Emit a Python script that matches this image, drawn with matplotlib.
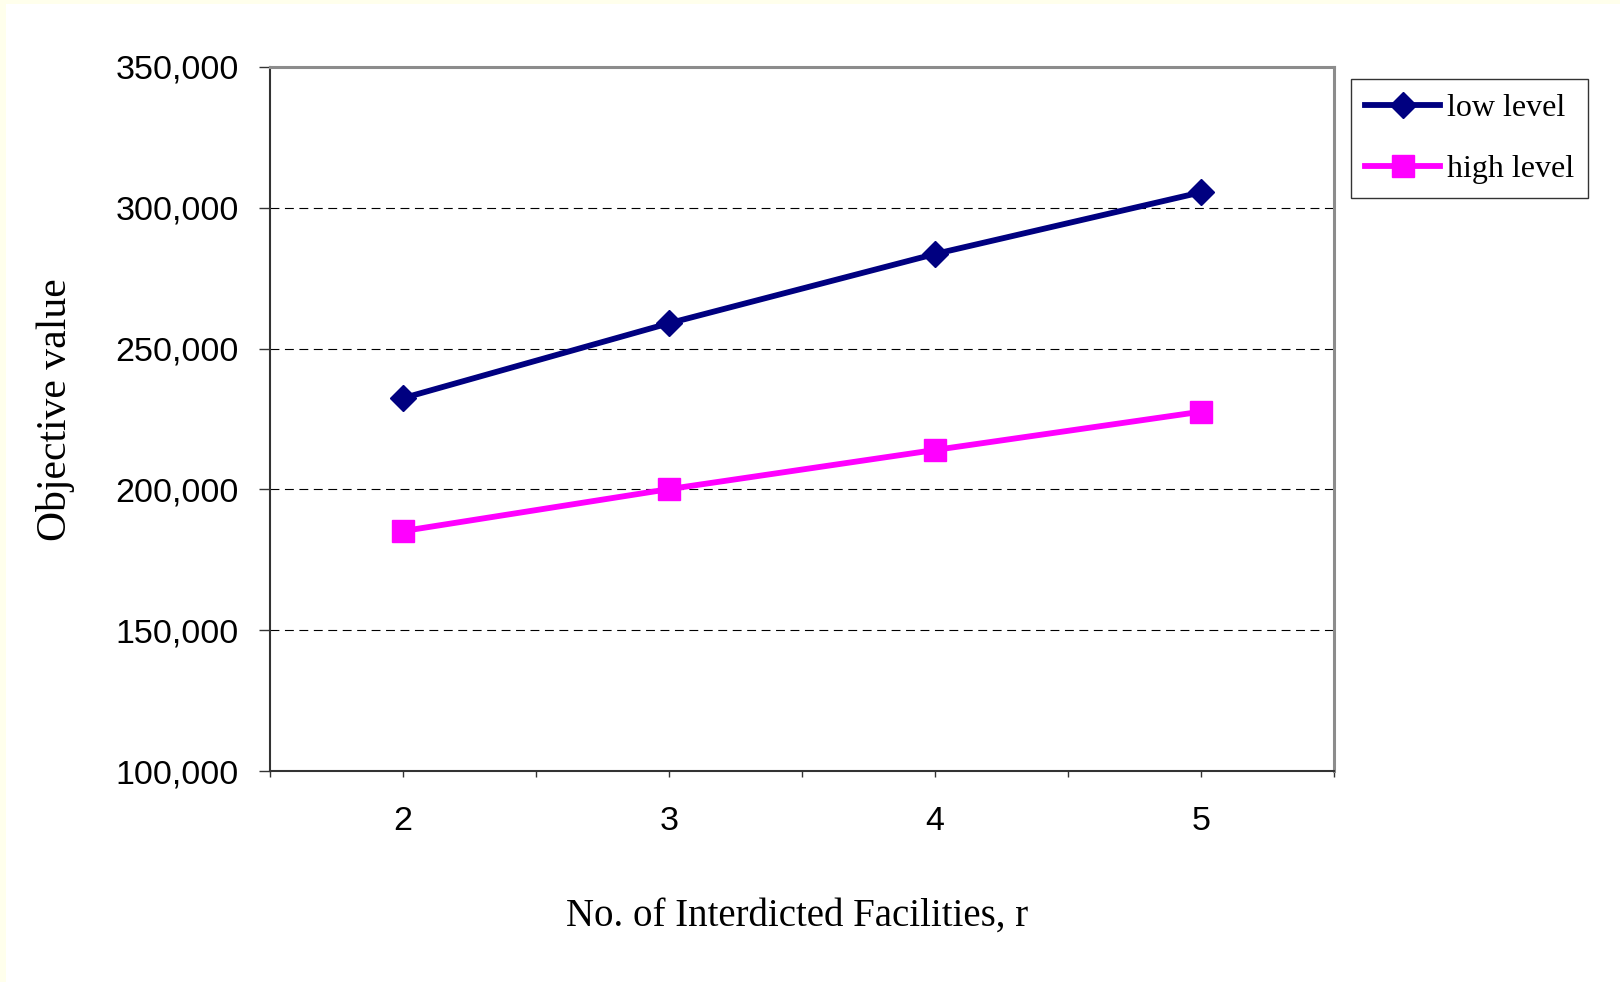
import matplotlib
matplotlib.use("Agg")
import matplotlib.pyplot as plt
from matplotlib.patches import Rectangle
from matplotlib.ticker import MultipleLocator, FixedLocator

# данные
r_values = [2, 3, 4, 5]
low_level = [232400, 259000, 283600, 305500]
high_level = [185200, 200100, 214000, 227600]
y_ticks = [100000, 150000, 200000, 250000, 300000, 350000]
y_tick_labels = ["100,000", "150,000", "200,000", "250,000", "300,000", "350,000"]
series_names = ["low level", "high level"]

W, H = 1620, 982
fig = plt.figure(figsize=(W / 100, H / 100), dpi=100, facecolor="white")

# бледно-жёлтая рамка слева и сверху
fig.patches.append(Rectangle((0, 0), 6 / W, 1, transform=fig.transFigure,
                             facecolor="#FFFFEC", edgecolor="none", zorder=0))
fig.patches.append(Rectangle((0, 1 - 4 / H), 1, 4 / H, transform=fig.transFigure,
                             facecolor="#FFFFEC", edgecolor="none", zorder=0))

ax = fig.add_axes([270 / W, 1 - 771 / H, (1334 - 270) / W, (771 - 67) / H])

ax.plot(r_values, low_level, color="#000080", lw=4.2, marker="D", ms=13,
        mec="#000080", label=series_names[0], zorder=3)
ax.plot(r_values, high_level, color="#FF00FF", lw=4.2, marker="s", ms=16,
        mec="#FF00FF", label=series_names[1], zorder=3)

ax.set_xlim(1.5, 5.5)
ax.set_ylim(100000, 350000)

ax.xaxis.set_major_locator(FixedLocator(r_values))
ax.xaxis.set_minor_locator(MultipleLocator(0.5))
ax.set_xticklabels([str(v) for v in r_values])
ax.set_yticks(y_ticks)
ax.set_yticklabels(y_tick_labels)

ax.tick_params(axis="x", which="both", direction="out", length=4, width=1,
               color="#333333", pad=21, labelsize=24.5)
ax.tick_params(axis="y", direction="out", length=8, width=1, color="#333333",
               pad=14.5, labelsize=24.5)
for lab in ax.get_xticklabels() + ax.get_yticklabels():
    lab.set_fontfamily("Liberation Sans")

ax.yaxis.grid(True, color="black", lw=0.8, linestyle=(0, (8, 5)), zorder=1)
ax.set_axisbelow(True)

for side in ["left", "bottom"]:
    ax.spines[side].set_color("#333333")
    ax.spines[side].set_linewidth(1.5)
for side in ["top", "right"]:
    ax.spines[side].set_color("#8C8C8C")
    ax.spines[side].set_linewidth(2.2)

ax.set_xlabel("No. of Interdicted Facilities, r", fontsize=28,
              fontfamily="Liberation Serif", va="center")
ax.xaxis.set_label_coords(0.495, -0.206)
ax.set_ylabel("Objective value", fontsize=30, fontfamily="Liberation Serif",
              va="center")
ax.yaxis.set_label_coords(-0.202, 0.514)

leg = ax.legend(loc="upper left", bbox_to_anchor=(1351 / W, 1 - 79 / H),
                bbox_transform=fig.transFigure, borderaxespad=0,
                prop={"family": "Liberation Serif", "size": 23},
                frameon=True, fancybox=False, edgecolor="black",
                handlelength=2.35, handletextpad=0.2, labelspacing=1.0,
                borderpad=0.45)
leg.get_frame().set_linewidth(1.0)

fig.savefig("out.png", dpi=100, facecolor=fig.get_facecolor())
